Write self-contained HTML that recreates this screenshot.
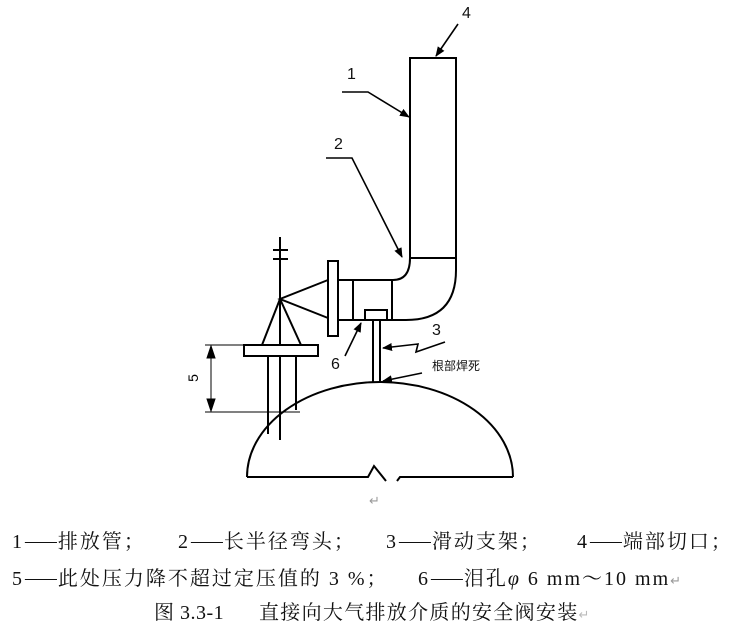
<!DOCTYPE html>
<html><head><meta charset="utf-8"><style>
body{margin:0;background:#fff;width:732px;height:640px;overflow:hidden;position:relative}
.t{position:absolute;font-family:"Liberation Serif","Noto Serif CJK SC",serif;font-size:20px;letter-spacing:2px;color:#111;white-space:nowrap;line-height:22px}
.s{font-family:"Liberation Sans",sans-serif;font-size:16px;line-height:18px;letter-spacing:0}
.d{font-family:"Noto Serif CJK SC",serif;letter-spacing:0}
</style></head><body>
<svg width="732" height="640" style="position:absolute;left:0;top:0" xmlns="http://www.w3.org/2000/svg">
<defs><marker id="a" markerWidth="10" markerHeight="8" refX="9" refY="4" orient="auto" markerUnits="userSpaceOnUse"><path d="M0,0 L10,4 L0,8 Z" fill="#000"/></marker></defs>
<g stroke="#000" stroke-width="2" fill="none">
<path d="M410,258 V58 H456 V270 Q456,320 406,320 H338"/>
<path d="M410,258 Q410,280 393,280 H338"/>
<line x1="410" y1="258" x2="456" y2="258"/>
<line x1="353" y1="280" x2="353" y2="320"/>
<line x1="392" y1="280" x2="392" y2="320"/>
<rect x="328" y="261" width="10" height="75" fill="#fff"/>
<path d="M328,280 L280,299 L328,318"/>
<line x1="280" y1="237" x2="280" y2="440"/>
<line x1="273" y1="250" x2="288" y2="250"/>
<line x1="273" y1="259" x2="288" y2="259"/>
<path d="M262,345 L280,299 L301,345"/>
<rect x="244" y="345" width="74" height="11" fill="#fff"/>
<line x1="268" y1="356" x2="268" y2="434"/>
<line x1="296" y1="356" x2="296" y2="410"/>
<rect x="365" y="310" width="22" height="10" fill="#fff"/>
<line x1="373" y1="320" x2="373" y2="382"/>
<line x1="380" y1="320" x2="380" y2="382"/>
<path d="M247,477 A133,95 0 0 1 513,477"/>
<path d="M247,477 H368 L374,466 L386,481 M397,481 L400,477 H513"/>
</g>
<g stroke="#000" stroke-width="1">
<line x1="205" y1="345" x2="244" y2="345"/>
<line x1="205" y1="412" x2="300" y2="412"/>
<line x1="211" y1="346" x2="211" y2="411"/>
<path d="M207,358 L211,346 L215,358Z M207,399 L211,411 L215,399Z" fill="#000"/>
</g>
<g stroke="#000" stroke-width="1.6" fill="none">
<path d="M458,24 L436,56" marker-end="url(#a)"/>
<path d="M342,92 H368 L409,117" marker-end="url(#a)"/>
<path d="M326,158 H352 L402,257" marker-end="url(#a)"/>
<path d="M345,356 L361,323" marker-end="url(#a)"/>
<path d="M445,342 L416,352 L418,344 L383,348" marker-end="url(#a)"/>
<path d="M422,373 L383,381" marker-end="url(#a)"/>
</g>
<text x="198" y="378" font-family="Liberation Sans" font-size="14" transform="rotate(-90 198 378)" text-anchor="middle">5</text>
</svg>
<div class="t s" style="left:462px;top:5px">4</div>
<div class="t s" style="left:347px;top:66px">1</div>
<div class="t s" style="left:334px;top:136px">2</div>
<div class="t s" style="left:331px;top:356px">6</div>
<div class="t s" style="left:432px;top:322px">3</div>
<div class="t" style="left:432px;top:359px;font-family:'Liberation Sans','Noto Sans CJK SC',sans-serif;font-size:12px;line-height:14px;letter-spacing:0">根部焊死</div>
<div class="t" style="left:369px;top:490px;color:#999;font-size:13px">↵</div>
<div class="t" style="left:12px;top:529px">1<span class="d">——</span>排放管；</div>
<div class="t" style="left:178px;top:529px">2<span class="d">——</span>长半径弯头；</div>
<div class="t" style="left:386px;top:529px">3<span class="d">——</span>滑动支架；</div>
<div class="t" style="left:577px;top:529px">4<span class="d">——</span>端部切口；</div>
<div class="t" style="left:12px;top:566px">5<span class="d">——</span>此处压力降不超过定压值的 3 %；</div>
<div class="t" style="left:418px;top:566px">6<span class="d">——</span>泪孔<i>φ</i> 6 mm～10 mm<span style="color:#999;font-size:13px">↵</span></div>
<div class="t" style="left:154px;top:602px;letter-spacing:0.5px">图 3.3-1</div>
<div class="t" style="left:259px;top:602px;letter-spacing:1.3px">直接向大气排放介质的安全阀安装<span style="color:#bbb;font-size:13px">↵</span></div>
</body></html>
